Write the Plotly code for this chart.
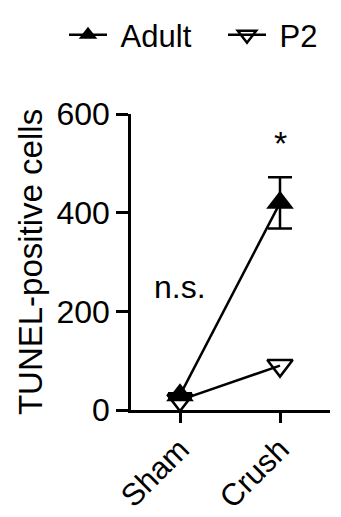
import plotly.graph_objects as go

categories = ["Sham", "Crush"]
adult_mean = [30, 420]
adult_sem = [4, 52]
p2_mean = [20, 90]
p2_sem = [3, 3]
yticks = [0, 200, 400, 600]

FONT = "Liberation Sans, Arial, sans-serif"
xs = list(range(len(categories)))

fig = go.Figure()
fig.add_trace(go.Scatter(
    x=xs, y=p2_mean, name="\u00a0P2", mode="lines+markers",
    line=dict(color="black", width=2.5),
    marker=dict(symbol="triangle-down-open", size=22, color="black", line=dict(width=2.5)),
    error_y=dict(type="data", array=p2_sem, visible=False),
))
fig.add_trace(go.Scatter(
    x=xs, y=adult_mean, name="\u00a0Adult", mode="lines+markers",
    line=dict(color="black", width=2.5),
    marker=dict(symbol="triangle-up", size=24, color="black"),
    error_y=dict(type="data", array=adult_sem, color="black", thickness=2.5, width=12, symmetric=True),
))

fig.add_annotation(x=0, y=250, text="n.s.", showarrow=False, font=dict(family=FONT, size=32, color="black"))
fig.add_annotation(x=1, y=541, text="*", showarrow=False, font=dict(family=FONT, size=34, color="black"))

fig.update_layout(
    width=341, height=517,
    margin=dict(l=131, r=11, t=114, b=107, autoexpand=False),
    paper_bgcolor="white", plot_bgcolor="white",
    font=dict(family=FONT, color="black"),
    showlegend=True,
    legend=dict(orientation="h", x=(64 - 131) / 199, xanchor="left", y=1.0 + 79 / 296, yanchor="middle",
                font=dict(family=FONT, size=31, color="black"), traceorder="reversed",
                itemwidth=38, entrywidth=106, entrywidthmode="pixels"),
    xaxis=dict(range=[-0.49, 1.5], tickvals=xs, ticktext=categories, tickangle=-45,
               showline=True, linecolor="black", linewidth=2.5, ticks="outside", ticklen=10,
               tickwidth=2.5, tickcolor="black", showgrid=False, zeroline=False, automargin=False,
               ticklabelstandoff=-4,
               tickfont=dict(family=FONT, size=31, color="black")),
    yaxis=dict(range=[0, 600], tickvals=yticks, showline=True, linecolor="black", linewidth=2.5,
               ticks="outside", ticklen=12, tickwidth=2.5, tickcolor="black", showgrid=False,
               zeroline=False, automargin=False, tickfont=dict(family=FONT, size=32, color="black"),
               title=dict(text="TUNEL-positive cells", font=dict(family=FONT, size=33, color="black"), standoff=4)),
)

fig.write_html("out.html", config={"displayModeBar": False},
               post_script="document.body.style.margin='0';")
